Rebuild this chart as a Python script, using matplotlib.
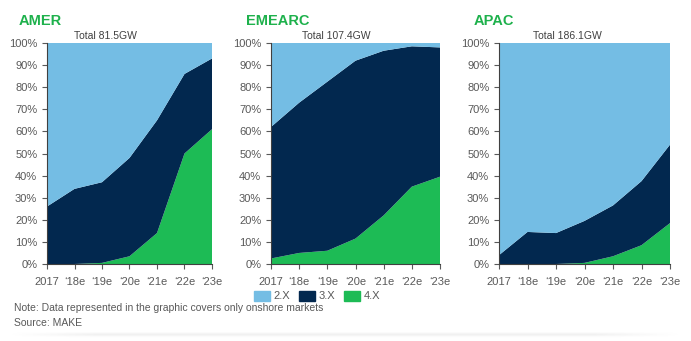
# Share of turbine platform classes (2.X / 3.X / 4.X) by region
import numpy as np
import matplotlib.pyplot as plt
from matplotlib.patches import Patch

years = ["2017", "\u201818e", "\u201819e", "\u201820e", "\u201821e", "\u201822e", "\u201823e"]
regions = ["AMER", "EMEARC", "APAC"]
totals = ["Total 81.5GW", "Total 107.4GW", "Total 186.1GW"]

# shares in % (4.X, 3.X), 2.X is the rest up to 100
amer_4x = [0, 0, 0.5, 3.5, 14, 50, 61]
amer_3x = [26, 34, 36.5, 44.5, 51, 36, 32]
emearc_4x = [2.5, 5, 6, 11.5, 22, 35, 39.5]
emearc_3x = [59.5, 68, 76.5, 80.5, 74.5, 63.5, 58.5]
apac_4x = [0, 0, 0, 0.5, 3.5, 8.5, 18.5]
apac_3x = [4, 14.5, 14, 19, 23, 29, 35.5]

share_4x = [amer_4x, emearc_4x, apac_4x]
share_3x = [amer_3x, emearc_3x, apac_3x]

c2 = "#74bde4"
c3 = "#02284f"
c4 = "#1dbb55"
green_title = "#1eb14c"
grey = "#595959"

fig = plt.figure(figsize=(6.91, 3.41), dpi=100)
plt.rcParams['font.family'] = ['Liberation Sans', 'DejaVu Sans']

W, H = 691, 341
lefts = [47, 271, 499]
widths = [165, 169, 171]
title_x = [19, 246, 474]
total_x = [105, 336, 567]
x = np.arange(len(years))

for i in range(3):
    ax = fig.add_axes([lefts[i] / W, 77 / H, widths[i] / W, 221 / H])
    s4 = np.array(share_4x[i])
    s3 = np.array(share_3x[i])
    s2 = 100 - s4 - s3
    ax.stackplot(x, s4, s3, s2, colors=[c4, c3, c2], linewidth=0)
    ax.set_xlim(0, 6)
    ax.set_ylim(0, 100)
    ax.set_yticks(np.arange(0, 101, 10))
    ax.set_yticklabels([f"{v}%" for v in range(0, 101, 10)])
    ax.set_xticks(x)
    ax.set_xticklabels(years)
    ax.tick_params(labelsize=8, colors=grey, length=3.5, width=0.8)
    ax.tick_params(axis='y', pad=3.5)
    ax.tick_params(axis='x', pad=6)
    for sp in ["top", "right"]:
        ax.spines[sp].set_visible(False)
    for sp in ["left", "bottom"]:
        ax.spines[sp].set_color("#404040")
        ax.spines[sp].set_linewidth(0.8)
    fig.text(total_x[i] / W, 1 - 36 / H, totals[i], fontsize=7.5, color="#404040",
             ha="center", va="center")
    fig.text(title_x[i] / W, 1 - 21 / H, regions[i], fontsize=10.5,
             fontweight="bold", color=green_title, va="center", ha="left")

handles = [Patch(color=c2, label="2.X"), Patch(color=c3, label="3.X"), Patch(color=c4, label="4.X")]
fig.legend(handles=handles, loc="center", bbox_to_anchor=(317 / W, 1 - 296 / H),
           ncol=3, frameon=False, fontsize=8, handlelength=1.45, handleheight=1.0,
           handletextpad=0.3, columnspacing=0.8, labelcolor=grey,
           borderpad=0, borderaxespad=0)

fig.text(14 / W, 1 - 308 / H, "Note: Data represented in the graphic covers only onshore markets",
         fontsize=7.5, color=grey, va="center")
fig.text(14 / W, 1 - 323 / H, "Source: MAKE", fontsize=7.5, color=grey, va="center")

# faint drop shadow under the panel
sh = fig.add_axes([10 / W, 1 - 339 / H, 670 / W, 7 / H])
grad = np.exp(-((np.arange(7) - 2.0) ** 2) / 3.0)[:, None] * np.ones((1, 200))
edge = np.minimum(1, np.minimum(np.arange(200), np.arange(200)[::-1]) / 25.0)
sh.imshow(grad * edge[None, :], cmap="Greys", vmin=0, vmax=9, aspect="auto")
sh.axis("off")

plt.savefig("out.png", dpi=100)
